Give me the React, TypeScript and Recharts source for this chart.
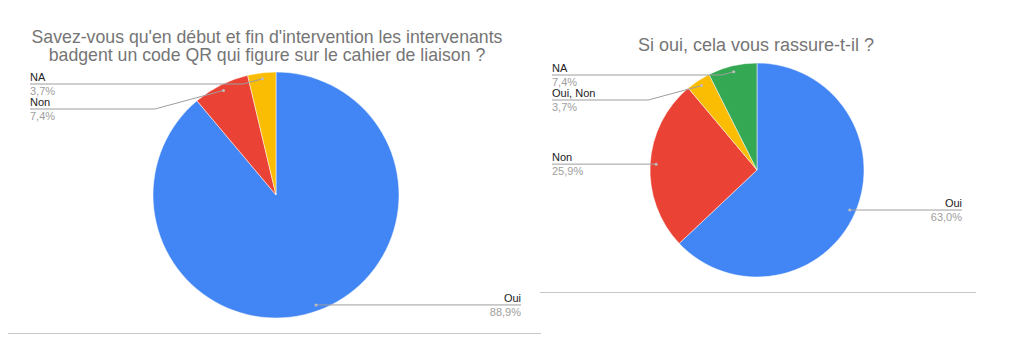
import { PieChart, Pie, Cell } from 'recharts'

const leftTitle = ["Savez-vous qu'en début et fin d'intervention les intervenants", 'badgent un code QR qui figure sur le cahier de liaison ?']
const leftCategories = ['Oui', 'Non', 'NA']
const leftValues = [24, 2, 1]
const leftColors = ['#4285f4', '#ea4335', '#fbbc04']

const rightTitle = ['Si oui, cela vous rassure-t-il ?']
const rightCategories = ['Oui', 'Non', 'Oui, Non', 'NA']
const rightValues = [17, 7, 1, 2]
const rightColors = ['#4285f4', '#ea4335', '#fbbc04', '#34a853']

const RAD = Math.PI / 180
const FONT = '"Liberation Sans", Arial, sans-serif'

function midAngles(values: number[]) {
    const total = values.reduce((a, b) => a + b, 0)
    let acc = 0
    return values.map((v) => {
        const m = 90 - ((acc + v / 2) / total) * 360
        acc += v
        return m
    })
}

// stack the label rows on each side so they don't overlap
function labelRows(values: number[], cx: number, cy: number, r: number) {
    const pts = midAngles(values).map((a) => ({
        x: cx + (r - 6) * Math.cos(-a * RAD),
        y: cy + (r - 6) * Math.sin(-a * RAD),
    }))
    const rows: number[] = new Array(values.length)
    for (const side of [-1, 1]) {
        const idx = pts
            .map((_, i) => i)
            .filter((i) => (pts[i].x < cx ? -1 : 1) === side)
            .sort((a, b) => pts[a].y - pts[b].y)
        let prev = -Infinity
        idx.forEach((i) => {
            const y = Math.max(pts[i].y, prev + 25, cy - r + 12)
            rows[i] = y
            prev = y
        })
    }
    return rows
}

function makeLabel(categories: string[], values: number[], rows: number[], leftX: number, rightX: number) {
    const total = values.reduce((a, b) => a + b, 0)
    return (props: any) => {
        const { cx, cy, midAngle, outerRadius, index } = props
        const ax = cx + (outerRadius - 6) * Math.cos(-midAngle * RAD)
        const ay = cy + (outerRadius - 6) * Math.sin(-midAngle * RAD)
        const ly = rows[index]
        const onLeft = ax < cx
        const endX = onLeft ? leftX : rightX
        const elbowX = ax + (onLeft ? -1 : 1) * Math.abs(ly - ay) * 3.7
        const pct = ((values[index] / total) * 100).toFixed(1).replace('.', ',') + '%'
        return (
            <g key={`lbl-${index}`}>
                <polyline
                    points={`${endX},${ly} ${elbowX},${ly} ${ax},${ay}`}
                    fill="none"
                    stroke="#9e9e9e"
                    strokeWidth={1}
                />
                <circle cx={ax} cy={ay} r={1.5} fill="#bdbdbd" />
                <text x={endX} y={ly - 3} textAnchor={onLeft ? 'start' : 'end'} fontSize={11} fontFamily={FONT} fill="#222222">
                    {categories[index]}
                </text>
                <text x={endX} y={ly + 11} textAnchor={onLeft ? 'start' : 'end'} fontSize={11} fontFamily={FONT} fill="#9e9e9e">
                    {pct}
                </text>
            </g>
        )
    }
}

interface PieBlockProps {
    title: string[]
    titleSize: number
    titleTop: number
    titleCenter: number
    categories: string[]
    values: number[]
    colors: string[]
    left: number
    width: number
    height: number
    cx: number
    cy: number
    radius: number
    labelLeft: number
    labelRight: number
    ruleTop: number
    ruleLeft: number
    ruleWidth: number
}

function PieBlock(p: PieBlockProps) {
    const data = p.categories.map((name, i) => ({ name, value: p.values[i] }))
    const rows = labelRows(p.values, p.cx, p.cy, p.radius)
    return (
        <div style={{ position: 'absolute', left: p.left, top: 0, width: p.width, height: p.height }}>
            <div
                style={{
                    position: 'absolute',
                    left: p.titleCenter - 300,
                    width: 600,
                    top: p.titleTop,
                    textAlign: 'center',
                    fontFamily: FONT,
                    fontSize: p.titleSize,
                    lineHeight: '18px',
                    color: '#757575',
                }}
            >
                {p.title.map((t) => (
                    <div key={t}>{t}</div>
                ))}
            </div>
            <PieChart
                width={p.width}
                height={p.height}
                margin={{ top: 0, right: 0, bottom: 0, left: 0 }}
                style={{ position: 'absolute', left: 0, top: 0 }}
            >
                <Pie
                    data={data}
                    dataKey="value"
                    nameKey="name"
                    cx={p.cx}
                    cy={p.cy}
                    outerRadius={p.radius}
                    startAngle={90}
                    endAngle={-270}
                    stroke="#ffffff"
                    strokeWidth={0.5}
                    label={makeLabel(p.categories, p.values, rows, p.labelLeft, p.labelRight)}
                    labelLine={false}
                    isAnimationActive={false}
                >
                    {data.map((d, i) => (
                        <Cell key={d.name} fill={p.colors[i]} />
                    ))}
                </Pie>
            </PieChart>
            <div
                style={{
                    position: 'absolute',
                    left: p.ruleLeft,
                    top: p.ruleTop,
                    width: p.ruleWidth,
                    height: 1,
                    background: '#c6c6c6',
                }}
            />
        </div>
    )
}

export default function App() {
    return (
        <div style={{ position: 'absolute', left: 0, top: 0, width: 1024, height: 364, background: '#fff', overflow: 'hidden' }}>
            <PieBlock
                title={leftTitle}
                titleSize={17.7}
                titleTop={28}
                titleCenter={267}
                categories={leftCategories}
                values={leftValues}
                colors={leftColors}
                left={0}
                width={540}
                height={345}
                cx={276}
                cy={195}
                radius={123}
                labelLeft={30}
                labelRight={521}
                ruleTop={333}
                ruleLeft={8}
                ruleWidth={533}
            />
            <PieBlock
                title={rightTitle}
                titleSize={18}
                titleTop={36}
                titleCenter={216}
                categories={rightCategories}
                values={rightValues}
                colors={rightColors}
                left={540}
                width={484}
                height={300}
                cx={217}
                cy={170}
                radius={107}
                labelLeft={12}
                labelRight={422}
                ruleTop={292}
                ruleLeft={0}
                ruleWidth={436}
            />
        </div>
    )
}
